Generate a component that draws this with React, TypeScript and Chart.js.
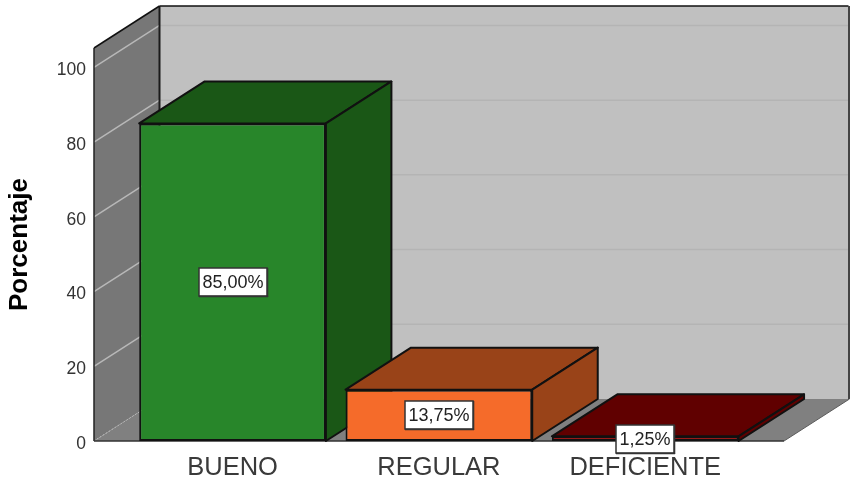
import React, { useEffect, useRef } from "react";
import { Chart, registerables } from "chart.js";

Chart.register(...registerables);

const categories = ["BUENO", "REGULAR", "DEFICIENTE"];
const percentages = [85, 13.75, 1.25];
const frontColors = ["#28862a", "#f56b2a", "#ab0000"];
const shadeColors = ["#1a5716", "#994318", "#600000"];
const yTickStep = 20;
const yAxisTitle = "Porcentaje";

const FONT = "'Liberation Sans', Arial, sans-serif";
const DX = 65.5;
const DY = 42;

const poly = (ctx: CanvasRenderingContext2D, pts: number[][], fill: string | null, stroke: string | null, lw = 2) => {
  ctx.beginPath();
  pts.forEach(([x, y], i) => (i ? ctx.lineTo(x, y) : ctx.moveTo(x, y)));
  ctx.closePath();
  if (fill) {
    ctx.fillStyle = fill;
    ctx.fill();
  }
  if (stroke) {
    ctx.strokeStyle = stroke;
    ctx.lineWidth = lw;
    ctx.lineJoin = "round";
    ctx.stroke();
  }
};

const line = (ctx: CanvasRenderingContext2D, x1: number, y1: number, x2: number, y2: number, color: string, lw: number, dash: number[] = []) => {
  ctx.beginPath();
  ctx.setLineDash(dash);
  ctx.moveTo(x1, y1);
  ctx.lineTo(x2, y2);
  ctx.strokeStyle = color;
  ctx.lineWidth = lw;
  ctx.stroke();
  ctx.setLineDash([]);
};

const box3d = {
  id: "box3d",
  beforeDatasetsDraw(chart: any) {
    const { ctx, chartArea: a, scales } = chart;
    const L = a.left, R = a.right, T = a.top, B = a.bottom;
    ctx.save();
    // back wall
    poly(ctx, [[L + DX, T - DY], [R + DX, T - DY], [R + DX, B - DY], [L + DX, B - DY]], "#c0c0c0", null);
    // floor
    poly(ctx, [[L, B], [R, B], [R + DX, B - DY], [L + DX, B - DY]], "#808080", null);
    // side wall
    poly(ctx, [[L, T], [L + DX, T - DY], [L + DX, B - DY], [L, B]], "#777777", null);
    // gridlines
    scales.y.ticks.forEach((t: any) => {
      const y = scales.y.getPixelForValue(t.value);
      if (t.value === 0) {
        line(ctx, L, y, L + DX, y - DY, "#bdbdbd", 1, [1.5, 2]);
      } else {
        line(ctx, L, y, L + DX, y - DY, "#b8b8b8", 1.5);
        line(ctx, L + DX, y - DY, R + DX, y - DY, "#b4b4b4", 1.5);
      }
    });
    // wall edges
    line(ctx, L + DX, T - DY, R + DX - 1, T - DY, "#111111", 1.5);
    line(ctx, L + DX, T - DY, L + DX, B - DY, "#1a1a1a", 2);
    line(ctx, L, T, L + DX, T - DY, "#111111", 1.5);
    line(ctx, L, T, L, B, "#222222", 1.5);
    line(ctx, R + DX - 0.5, T - DY, R + DX - 0.5, B - DY, "#444444", 2);
    line(ctx, R, B, R + DX, B - DY, "#5c5c5c", 1);
    line(ctx, L, B, R, B, "#333333", 1.5);
    // bar top and side faces, painted from back to front
    chart.getDatasetMeta(0).data.forEach((bar: any, i: number) => {
      const half = bar.width / 2;
      const l = bar.x - half, r = bar.x + half, t = bar.y, b = bar.base;
      const edge = "#111111";
      poly(ctx, [[l, t], [r, t], [r + DX, t - DY], [l + DX, t - DY]], shadeColors[i], edge);
      poly(ctx, [[r, t], [r + DX, t - DY], [r + DX, b - DY], [r, b]], shadeColors[i], edge);
    });
    ctx.restore();
  },
  afterDatasetsDraw(chart: any) {
    const { ctx } = chart;
    ctx.save();
    chart.getDatasetMeta(0).data.forEach((bar: any, i: number) => {
      const text = percentages[i].toFixed(2).replace(".", ",") + "%";
      ctx.font = `18px ${FONT}`;
      const w = ctx.measureText(text).width + 7;
      const h = 28;
      const cx = bar.x;
      const cy = (bar.y + bar.base) / 2;
      const x = Math.round(cx - w / 2), y = Math.round(cy - h / 2);
      ctx.fillStyle = "#ffffff";
      ctx.fillRect(x, y, w, h);
      ctx.strokeStyle = "#333333";
      ctx.lineWidth = 1.5;
      ctx.strokeRect(x, y, w, h);
      line(ctx, x + w + 0.5, y, x + w + 0.5, y + h + 1, "#333333", 1.5);
      line(ctx, x, y + h + 0.5, x + w + 1, y + h + 0.5, "#333333", 1.5);
      ctx.fillStyle = "#222222";
      ctx.textAlign = "center";
      ctx.textBaseline = "middle";
      ctx.fillText(text, x + w / 2, y + h / 2 + 1);
    });
    ctx.restore();
  },
};

export default function App() {
  const ref = useRef<HTMLCanvasElement>(null);
  useEffect(() => {
    const chart = new Chart(ref.current!, {
      type: "bar",
      data: {
        datasets: [
          {
            data: percentages.map((y, x) => ({ x, y })),
            backgroundColor: frontColors,
            borderColor: "#111111",
            borderWidth: 2,
            borderSkipped: false,
            barPercentage: 0.905,
            categoryPercentage: 1,
            clip: false,
          } as any,
        ],
      },
      options: {
        responsive: false,
        animation: false,
        layout: { padding: { top: 48, right: 66, left: 0, bottom: 0 } },
        plugins: { legend: { display: false }, tooltip: { enabled: false } },
        scales: {
          x: {
            type: "linear",
            offset: false,
            min: -0.6715,
            max: 2.6727,
            grid: { display: false },
            border: { display: false },
            afterBuildTicks: (s: any) => {
              s.ticks = categories.map((_, value) => ({ value }));
            },
            afterFit: (s: any) => {
              s.height = 36;
            },
            ticks: {
              autoSkip: false,
              maxRotation: 0,
              padding: 4,
              color: "#3a3a3a",
              font: { family: FONT, size: 25.5 },
              callback: (v: any) => categories[v] ?? "",
            },
          },
          y: {
            min: 0,
            max: 105.2,
            grid: { display: false },
            border: { display: false },
            afterFit: (s: any) => {
              s.width = 94;
            },
            title: {
              display: true,
              text: yAxisTitle,
              color: "#000000",
              align: "center",
              padding: { top: 4, bottom: 0 },
              font: { family: FONT, size: 26, weight: "bold" },
            },
            ticks: {
              stepSize: yTickStep,
              includeBounds: false,
              padding: 0,
              labelOffset: 3,
              color: "#333333",
              font: { family: FONT, size: 17.5 },
            },
          },
        },
      } as any,
      plugins: [box3d],
    });
    return () => chart.destroy();
  }, []);
  return (
    <div style={{ position: "fixed", left: 0, top: 0, width: 850, height: 477, background: "#ffffff" }}>
      <canvas ref={ref} width={850} height={477} style={{ display: "block" }} />
    </div>
  );
}
